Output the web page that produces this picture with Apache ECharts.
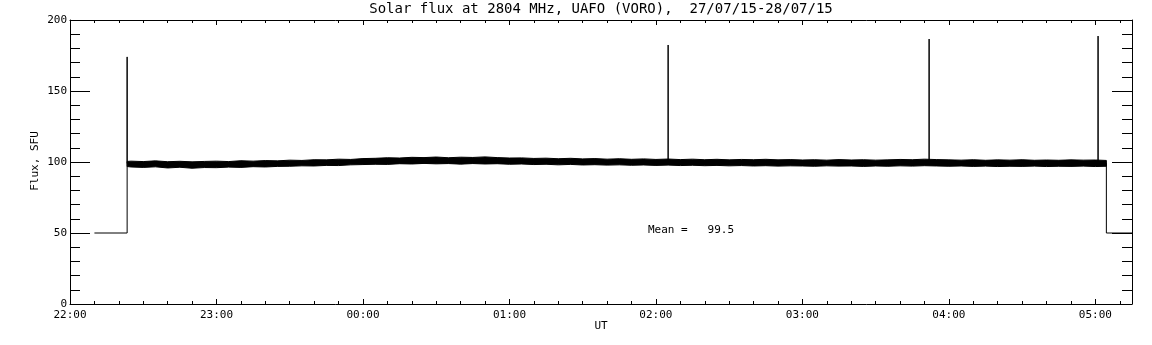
<!DOCTYPE html>
<html>
<head>
<meta charset="utf-8">
<title>Solar flux at 2804 MHz</title>
<script src="https://cdn.jsdelivr.net/npm/echarts@6/dist/echarts.min.js"></script>
<style>
  html, body { margin: 0; padding: 0; background: #fff; }
  #chart { width: 1152px; height: 345px; }
</style>
</head>
<body>
<div id="chart"></div>
<script>
// time is in minutes after 22:00 UT (27/07/15)
const yTicks = [0, 50, 100, 150, 200];
const hourLabels = ['22:00', '23:00', '00:00', '01:00', '02:00', '03:00', '04:00', '05:00'];

// step at start/end of the record plus the short spikes
const traceTimes  = [10, 23.4, 23.4, 23.4, 245, 245, 245, 351.9, 351.9, 351.9, 421.1, 421.1, 421.1, 424.5, 424.5, 435];
const traceValues = [50, 50, 174, 99, 99.5, 182.4, 99.5, 99.5, 186.6, 99.5, 99.5, 188.7, 99, 99, 50, 50];

// noise band (lower / upper edge) read every 5 minutes
const bandTimes = [23.4, 25, 30, 35, 40, 45, 50, 55, 60, 65, 70, 75, 80, 85, 90, 95, 100, 105, 110, 115,
  120, 125, 130, 135, 140, 145, 150, 155, 160, 165, 170, 175, 180, 185, 190, 195, 200, 205, 210, 215,
  220, 225, 230, 235, 240, 245, 250, 255, 260, 265, 270, 275, 280, 285, 290, 295, 300, 305, 310, 315,
  320, 325, 330, 335, 340, 345, 350, 355, 360, 365, 370, 375, 380, 385, 390, 395, 400, 405, 410, 415,
  420, 424.5];
const bandLow = [96.8, 96.5, 96.2, 96.6, 95.8, 96.3, 95.6, 96.1, 96.0, 96.4, 96.2, 96.7, 96.5, 96.9, 97.0, 97.3, 97.2, 97.6, 97.5, 98.0,
  98.2, 98.4, 98.3, 98.8, 98.6, 99.0, 98.7, 98.9, 98.5, 98.9, 98.6, 98.8, 98.4, 98.6, 98.2, 98.4, 98.0, 98.3, 97.9, 98.1,
  97.8, 98.0, 97.7, 97.9, 97.6, 97.8, 97.5, 97.7, 97.4, 97.6, 97.3, 97.5, 97.2, 97.4, 97.1, 97.3, 97.2, 97.0, 97.3, 97.1,
  97.2, 96.9, 97.2, 97.0, 97.3, 97.1, 97.4, 97.2, 97.0, 97.2, 96.9, 97.1, 96.8, 97.0, 96.9, 97.1, 96.8, 97.0, 96.9, 97.1,
  96.8, 97.0];
const bandHigh = [100.4, 100.6, 100.3, 100.8, 100.2, 100.5, 100.1, 100.4, 100.6, 100.3, 100.9, 100.6, 101.0, 100.8, 101.3, 101.1, 101.6, 101.5, 102.0, 101.8,
  102.4, 102.6, 103.0, 102.8, 103.3, 103.1, 103.5, 103.0, 103.4, 103.2, 103.6, 103.1, 102.8, 102.9, 102.5, 102.7, 102.3, 102.6, 102.2, 102.4,
  102.0, 102.3, 101.9, 102.2, 101.8, 102.1, 101.7, 102.0, 101.6, 101.9, 101.5, 101.8, 101.6, 101.9, 101.5, 101.7, 101.4, 101.6, 101.3, 101.7,
  101.4, 101.6, 101.3, 101.5, 101.8, 101.6, 102.0, 101.7, 101.5, 101.3, 101.6, 101.2, 101.5, 101.3, 101.6, 101.2, 101.4, 101.2, 101.5, 101.3,
  101.4, 101.1];

const meanValue = '99.5';

const FONT = 'DejaVu Sans Mono';
const BLACK = '#000';

function fmtTime(m) {
    if (m % 60 !== 0) return '';
    return hourLabels[m / 60] || '';
}

const chart = echarts.init(document.getElementById('chart'));

const majorX = (pos) => ({
    type: 'value', min: 0, max: 435, interval: 60, position: pos,
    axisLine: { show: true, onZero: false, lineStyle: { color: BLACK, width: 1 } },
    axisTick: { show: true, inside: true, length: 5, lineStyle: { color: BLACK } },
    axisLabel: {
        show: pos === 'bottom', formatter: fmtTime, showMaxLabel: false, margin: 6,
        color: BLACK, fontFamily: FONT, fontSize: 11
    },
    splitLine: { show: false }
});
const minorX = (pos) => ({
    type: 'value', min: 0, max: 435, interval: 10, position: pos,
    axisLine: { show: false, onZero: false },
    axisTick: { show: true, inside: true, length: 3, lineStyle: { color: BLACK } },
    axisLabel: { show: false },
    splitLine: { show: false }
});
const yAx = (pos) => ({
    type: 'value', min: yTicks[0], max: yTicks[yTicks.length - 1], interval: 50, position: pos,
    axisLine: { show: true, onZero: false, lineStyle: { color: BLACK, width: 1 } },
    axisTick: { show: true, inside: true, length: 20, lineStyle: { color: BLACK } },
    minorTick: { show: true, splitNumber: 5, length: 10, lineStyle: { color: BLACK } },
    axisLabel: { show: pos === 'left', margin: 3, color: BLACK, fontFamily: FONT, fontSize: 11 },
    splitLine: { show: false },
    minorSplitLine: { show: false }
});

chart.setOption({
    animation: false,
    backgroundColor: '#fff',
    grid: { left: 70, right: 20, top: 20, bottom: 41, outerBoundsMode: 'none' },
    xAxis: [majorX('bottom'), minorX('bottom'), majorX('top'), minorX('top')],
    yAxis: [yAx('left'), yAx('right')],
    graphic: [
        { type: 'text', x: 601, y: 9, style: { text: 'Solar flux at 2804 MHz, UAFO (VORO),  27/07/15-28/07/15', font: '14px "' + FONT + '"', fill: BLACK, textAlign: 'center', textVerticalAlign: 'middle' } },
        { type: 'text', x: 601, y: 326, style: { text: 'UT', font: '11px "' + FONT + '"', fill: BLACK, textAlign: 'center', textVerticalAlign: 'middle' } },
        { type: 'text', x: 35, y: 161, rotation: Math.PI / 2, style: { text: 'Flux, SFU', font: '11px "' + FONT + '"', fill: BLACK, textAlign: 'center', textVerticalAlign: 'middle' } },
        { type: 'text', x: 648, y: 230, style: { text: 'Mean =   ' + meanValue, font: '11px "' + FONT + '"', fill: BLACK, textAlign: 'left', textVerticalAlign: 'middle' } }
    ],
    series: [
        {
            type: 'custom',
            xAxisIndex: 0, yAxisIndex: 0,
            data: [[bandTimes[0], bandHigh[0]]],
            renderItem: function (params, api) {
                const top = bandTimes.map((t, i) => api.coord([t, bandHigh[i]]));
                const bottom = bandTimes.map((t, i) => api.coord([t, bandLow[i]])).reverse();
                return {
                    type: 'polygon',
                    shape: { points: top.concat(bottom) },
                    style: { fill: BLACK, stroke: BLACK, lineWidth: 1 }
                };
            },
            silent: true
        },
        {
            type: 'line',
            xAxisIndex: 0, yAxisIndex: 0,
            data: traceTimes.map((t, i) => [t, traceValues[i]]),
            showSymbol: false,
            lineStyle: { color: BLACK, width: 1 },
            silent: true
        }
    ]
});
</script>
</body>
</html>
